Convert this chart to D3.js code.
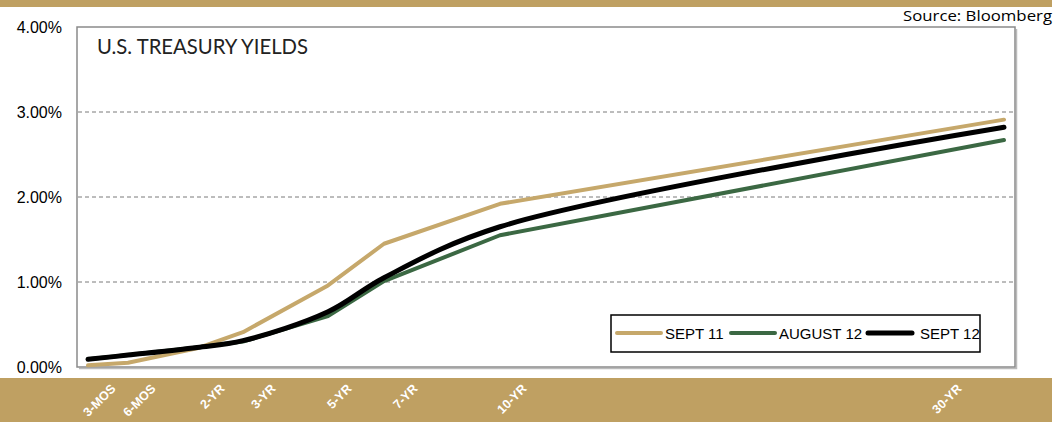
<!DOCTYPE html>
<html>
<head>
<meta charset="utf-8">
<script src="https://cdnjs.cloudflare.com/ajax/libs/d3/7.8.5/d3.min.js"></script>
<style>
  html, body { margin: 0; padding: 0; background: #fff; }
  svg { display: block; font-family: "Liberation Sans", Arial, sans-serif; }
</style>
</head>
<body>
<div id="chart"></div>
<script>
// maturities (years) and their labels
var maturities = [0.25, 0.5, 2, 3, 5, 7, 10, 30];
var tickLabels = ["3-MOS", "6-MOS", "2-YR", "3-YR", "5-YR", "7-YR", "10-YR", "30-YR"];

// yields in %
var sept11 = [0.02, 0.05, 0.22, 0.41, 0.96, 1.45, 1.92, 2.91];
var aug12  = [0.09, 0.14, 0.23, 0.30, 0.60, 1.01, 1.55, 2.67];
var sept12 = [0.09, 0.14, 0.23, 0.31, 0.65, 1.05, 1.65, 2.82];

var yTicks = [0, 1, 2, 3, 4];
var seriesNames = ["SEPT 11", "AUGUST 12", "SEPT 12"];

var W = 1061, H = 422;
var gold = "#bfa062";

var svg = d3.select("#chart").append("svg").attr("width", W).attr("height", H);

// top / bottom bands
svg.append("rect").attr("x", 0).attr("y", 0).attr("width", 1052).attr("height", 7).attr("fill", gold);
svg.append("rect").attr("x", 0).attr("y", 378).attr("width", 1052).attr("height", 44).attr("fill", gold);

var plot = {left: 77, top: 27, right: 1015, bottom: 367};

// uneven spacing like the original sheet
var x = d3.scaleLinear()
    .domain(maturities)
    .range([88, 128, 197, 243, 328, 384, 500, 1004]);
var labelX = d3.scaleLinear()
    .domain(maturities)
    .range([110, 150, 219, 270, 346, 412, 521, 956]);
var y = d3.scaleLinear().domain([0, 4]).range([plot.bottom, plot.top]);

// frame shadow + frame
svg.append("path")
    .attr("d", "M" + (plot.right + 1.5) + "," + (plot.top + 2) + "V" + (plot.bottom + 1.5) + "H" + (plot.left + 2))
    .attr("fill", "none").attr("stroke", "#bbb").attr("stroke-width", 1.5);
svg.append("rect")
    .attr("x", plot.left).attr("y", plot.top)
    .attr("width", plot.right - plot.left).attr("height", plot.bottom - plot.top)
    .attr("fill", "#fff").attr("stroke", "#8a8a8a").attr("stroke-width", 1.5);

// gridlines
svg.append("g").selectAll("line")
    .data(yTicks.filter(function (d) { return d > 0 && d < 4; }))
    .enter().append("line")
    .attr("x1", plot.left + 1).attr("x2", plot.right - 1)
    .attr("y1", function (d) { return y(d); }).attr("y2", function (d) { return y(d); })
    .attr("stroke", "#7a7a7a").attr("stroke-width", 1).attr("stroke-dasharray", "4,3");

// y axis labels
var yAxis = d3.axisLeft(y).tickValues(yTicks).tickSize(0).tickPadding(0)
    .tickFormat(function (d) { return d3.format(".2f")(d) + "%"; });
svg.append("g").attr("transform", "translate(62,0)").call(yAxis)
    .call(function (g) { g.select(".domain").remove(); })
    .selectAll("text")
    .attr("font-family", "Liberation Sans, Arial, sans-serif")
    .attr("font-size", 16).attr("fill", "#000");

// title
svg.append("text").attr("x", 97).attr("y", 54)
    .attr("font-family", "Lato, DejaVu Sans, sans-serif")
    .attr("font-size", 21).attr("fill", "#222")
    .attr("textLength", 211).attr("lengthAdjust", "spacingAndGlyphs")
    .text("U.S. TREASURY YIELDS");

// source
svg.append("text").attr("x", 1052).attr("y", 21).attr("text-anchor", "end")
    .attr("font-family", "Open Sans, Noto Sans, sans-serif")
    .attr("font-size", 15).attr("fill", "#000")
    .attr("textLength", 149).attr("lengthAdjust", "spacingAndGlyphs")
    .text("Source: Bloomberg");

// series
var series = [
    {name: seriesNames[0], values: sept11, color: "#c6a86b", width: 4, curve: d3.curveLinear},
    {name: seriesNames[1], values: aug12, color: "#3b6843", width: 4, curve: d3.curveLinear},
    {name: seriesNames[2], values: sept12, color: "#000", width: 5, curve: d3.curveCatmullRom.alpha(0.5)}
];

series.forEach(function (s) {
    var line = d3.line()
        .x(function (d, i) { return x(maturities[i]); })
        .y(function (d) { return y(d); })
        .curve(s.curve);
    svg.append("path").datum(s.values)
        .attr("d", line)
        .attr("fill", "none").attr("stroke", s.color)
        .attr("stroke-width", s.width).attr("stroke-linecap", "round").attr("stroke-linejoin", "round");
});

// x labels
svg.append("g").selectAll("text")
    .data(maturities)
    .enter().append("text")
    .attr("transform", function (d) { return "translate(" + labelX(d) + ",383) rotate(-45)"; })
    .attr("text-anchor", "end").attr("dy", "0.72em")
    .attr("font-family", "Liberation Sans, Arial, sans-serif")
    .attr("font-size", 12.5).attr("font-weight", "bold").attr("fill", "#fff")
    .text(function (d, i) { return tickLabels[i]; });

// legend
var lg = svg.append("g");
lg.append("rect").attr("x", 611).attr("y", 315).attr("width", 369).attr("height", 37)
    .attr("fill", "#fff").attr("stroke", "#000").attr("stroke-width", 1.5);
var legendPos = [[617, 665], [731, 779], [868, 920]];
series.forEach(function (s, i) {
    lg.append("line").attr("x1", legendPos[i][0]).attr("x2", legendPos[i][0] + 44)
        .attr("y1", 333).attr("y2", 333)
        .attr("stroke", s.color).attr("stroke-width", s.width).attr("stroke-linecap", "round");
    lg.append("text").attr("x", legendPos[i][1]).attr("y", 338.5)
        .attr("font-size", 15).attr("fill", "#000").text(s.name);
});
</script>
</body>
</html>
